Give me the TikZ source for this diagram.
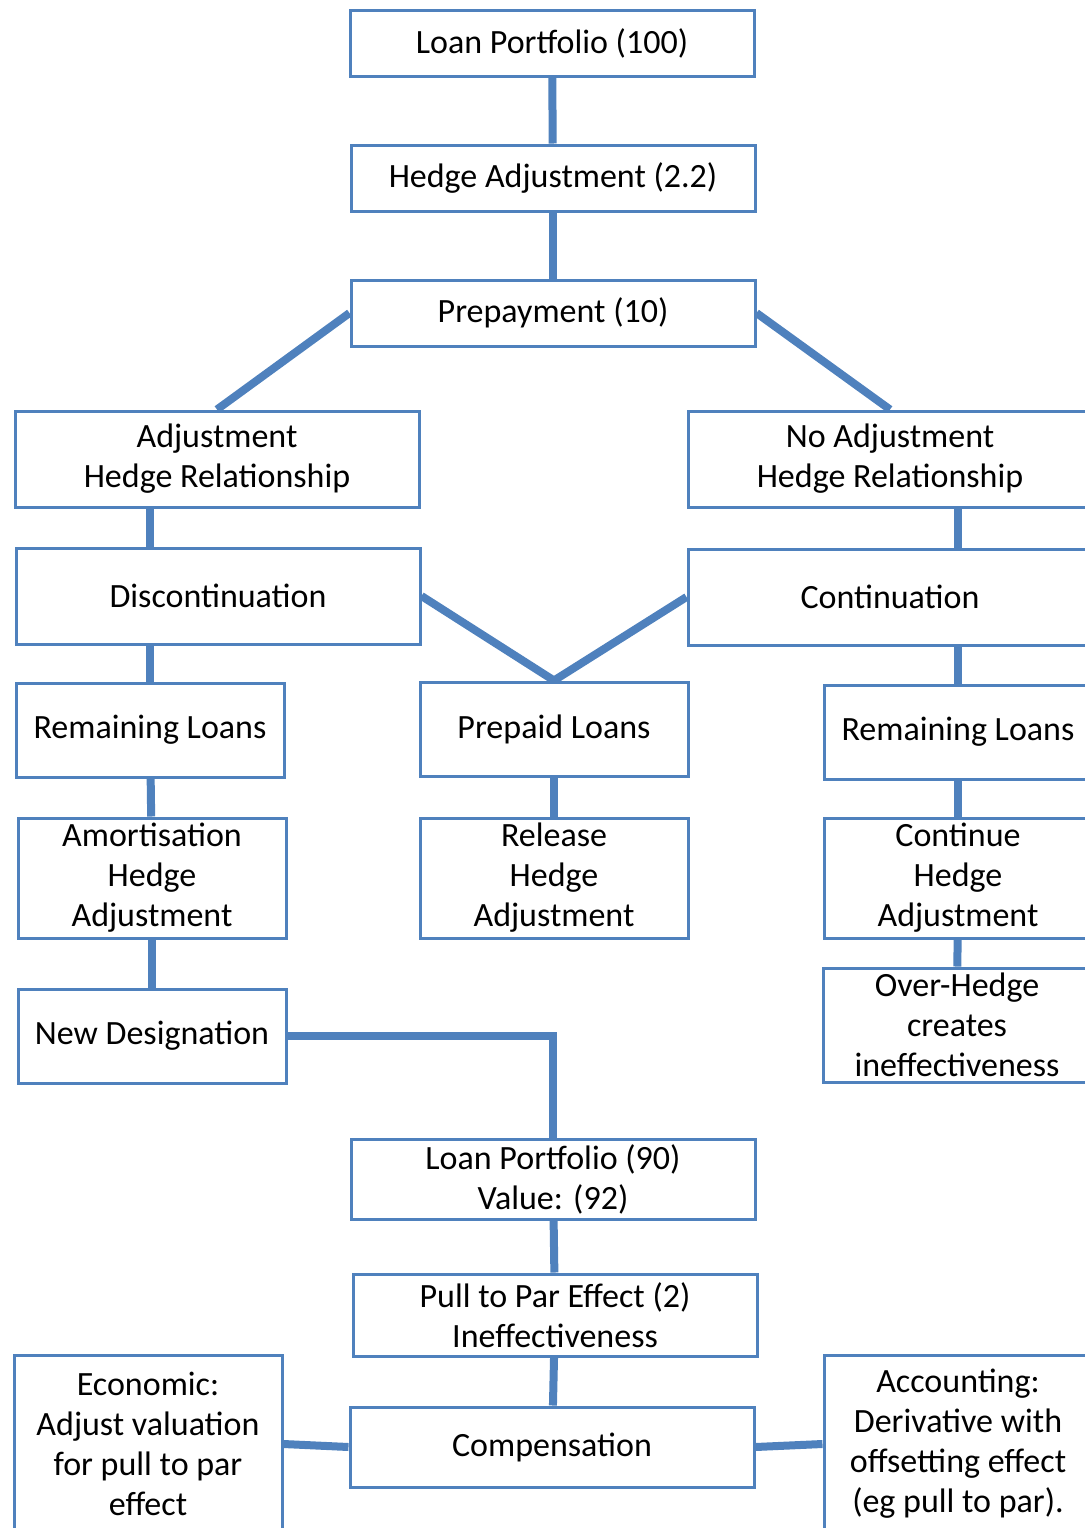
\documentclass[tikz,border=0pt]{standalone}
\usepackage{fontspec}
\setmainfont{Carlito}
\usepackage{tikz}

\definecolor{boxblue}{HTML}{4F81BD}

\begin{document}
\begin{tikzpicture}[x=0.5pt,y=-0.5pt,
  box/.style={draw=boxblue,line width=1.5pt,fill=white,align=center,inner sep=0pt,
    font=\fontsize{17}{20}\selectfont},
  wide/.style={box,minimum width=202pt},
  narrow/.style={box,minimum width=134pt},
  link/.style={draw=boxblue,line width=4pt}]
\useasboundingbox (0,0) rectangle (1085,1528);
\clip (0,0) rectangle (1085,1528);
% top chain
\node[wide,minimum height=33pt] (lpfull) at (552,43) {Loan Portfolio (100)};
\node[wide,minimum height=33pt] (hedgeadj) at (553,178) {Hedge Adjustment (2.2)};
\node[wide,minimum height=33pt] (prepay) at (553,313) {Prepayment (10)};
% two branches
\node[wide,minimum height=48pt] (adjrel) at (217,459) {Adjustment\\Hedge Relationship};
\node[wide,minimum height=48pt] (noadjrel) at (890,459) {No Adjustment\\Hedge Relationship};
\node[wide,minimum height=48pt] (discont) at (218,596) {Discontinuation};
\node[wide,minimum height=48pt] (contin) at (890,597) {Continuation};
\node[narrow,minimum height=47pt] (remleft) at (150,730) {Remaining Loans};
\node[narrow,minimum height=47pt] (prepaid) at (554,729) {Prepaid Loans};
\node[narrow,minimum height=47pt] (remright) at (958,732) {Remaining Loans};
\node[narrow,minimum height=60pt] (amort) at (152,878) {Amortisation\\Hedge\\Adjustment};
\node[narrow,minimum height=60pt] (release) at (554,878) {Release\\Hedge\\Adjustment};
\node[narrow,minimum height=60pt] (conthedge) at (958,878) {Continue\\Hedge\\Adjustment};
\node[narrow,minimum height=57pt] (overhedge) at (957,1025) {Over-Hedge\\creates\\ineffectiveness};
\node[narrow,minimum height=47pt] (newdesig) at (152,1036) {New Designation};
% bottom chain
\node[wide,minimum height=40pt] (lpnew) at (553,1179) {Loan Portfolio (90)\\Value: (92)};
\node[wide,minimum height=41pt] (pullpar) at (555,1315) {Pull to Par Effect (2)\\Ineffectiveness};
\node[wide,minimum height=40pt] (comp) at (552,1447) {Compensation};
\node[narrow,minimum height=89pt] (econ) at (148,1444) {Economic:\\Adjust valuation\\for pull to par\\effect};
\node[narrow,minimum height=89pt] (acct) at (958,1444) {Accounting:\\Derivative with\\offsetting effect\\(eg pull to par).};
% connectors
\draw[link] (lpfull) -- (hedgeadj);
\draw[link] (hedgeadj) -- (prepay);
\draw[link] (prepay.west) -- (adjrel.north);
\draw[link] (prepay.east) -- (noadjrel.north);
\draw[link] (remleft.north |- adjrel.south) -- (remleft.north |- discont.north);
\draw[link] (remright.north |- noadjrel.south) -- (remright.north |- contin.north);
\draw[link] (discont.east) -- (prepaid.north);
\draw[link] (contin.west) -- (prepaid.north);
\draw[link] (remleft.north |- discont.south) -- (remleft.north);
\draw[link] (remright.north |- contin.south) -- (remright.north);
\draw[link] (remleft) -- (amort);
\draw[link] (prepaid) -- (release);
\draw[link] (remright) -- (conthedge);
\draw[link] (amort) -- (newdesig);
\draw[link] (conthedge) -- (overhedge);
\draw[link] (newdesig.east) -| (lpnew.north);
\draw[link] (lpnew) -- (pullpar);
\draw[link] (pullpar) -- (comp);
\draw[link] (econ.east) -- (comp.west);
\draw[link] (comp.east) -- (acct.west);
\end{tikzpicture}
\end{document}
